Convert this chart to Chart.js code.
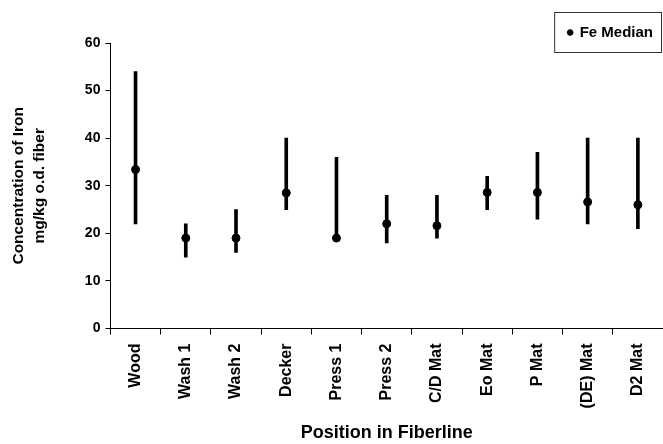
<!DOCTYPE html>
<html>
<head>
<meta charset="utf-8">
<script src="https://cdn.jsdelivr.net/npm/chart.js@4/dist/chart.umd.min.js"></script>
<style>
  html, body { margin: 0; padding: 0; background: #fff; overflow: hidden; }
  #wrap { width: 663px; height: 444px; }
  canvas { display: block; }
</style>
</head>
<body>
<div id="wrap"><canvas id="FeChart"></canvas></div>
<script>
// positions along the fiberline
var positions = ['Wood', 'Wash 1', 'Wash 2', 'Decker', 'Press 1', 'Press 2', 'C/D Mat', 'Eo Mat', 'P Mat', '(DE) Mat', 'D2 Mat'];
// median, low and high iron concentration (mg/kg o.d. fiber)
var feMedian = [33.4, 19, 19, 28.5, 19, 22, 21.6, 28.6, 28.6, 26.6, 26];
var feLow    = [22, 15, 16, 25, 19, 18, 19, 25, 23, 22, 21];
var feHigh   = [54, 22, 25, 40, 36, 28, 28, 32, 37, 40, 40];
var yTicks = [0, 10, 20, 30, 40, 50, 60];

var ranges = [];
for (var i = 0; i < positions.length; i++) {
  ranges.push([feLow[i], feHigh[i]]);
}

var font = 'Liberation Sans, Arial, sans-serif';

// draws the frame round the legend like the original
var legendBox = {
  id: 'legendBox',
  afterDraw: function(chart) {
    var lg = chart.legend;
    if (!lg || !lg.legendHitBoxes.length) return;
    var hb = lg.legendHitBoxes[0];
    var ctx = chart.ctx;
    ctx.save();
    ctx.strokeStyle = '#333';
    ctx.lineWidth = 1;
    ctx.strokeRect(hb.left - 13.5, Math.round(hb.top + hb.height / 2) - 20.5, hb.width + 22, 40);
    ctx.restore();
  }
};

var ctx = document.getElementById('FeChart').getContext('2d');
var feChart = new Chart(ctx, {
  type: 'bar',
  data: {
    labels: positions,
    datasets: [
      {
        type: 'line',
        label: 'Fe Median',
        data: feMedian,
        showLine: false,
        pointStyle: 'circle',
        pointRadius: 4,
        pointBackgroundColor: '#000',
        pointBorderColor: '#000',
        order: 0
      },
      {
        label: 'range',
        data: ranges,
        backgroundColor: '#000',
        borderWidth: 0,
        barThickness: 3,
        order: 1
      }
    ]
  },
  options: {
    responsive: true,
    maintainAspectRatio: false,
    animation: false,
    layout: { autoPadding: false, padding: { top: 15, right: 0, left: 8, bottom: 0 } },
    plugins: {
      tooltip: { enabled: false },
      legend: {
        position: 'top',
        align: 'end',
        maxHeight: 28,
        labels: {
          filter: function(item) { return item.text === 'Fe Median'; },
          usePointStyle: true,
          boxWidth: 4,
          boxHeight: 4,
          padding: 10,
          color: '#000',
          font: { family: font, size: 15, weight: 'bold' }
        }
      }
    },
    scales: {
      x: {
        offset: true,
        afterFit: function(s) { s.paddingRight = 0; },
        border: { display: true, color: '#000', width: 1 },
        grid: { display: true, drawOnChartArea: false, offset: true, color: '#000', tickLength: 6 },
        ticks: {
          color: '#000',
          minRotation: 90,
          maxRotation: 90,
          padding: 9,
          font: { family: font, size: 16, weight: 'bold' }
        },
        title: {
          display: true,
          text: 'Position in Fiberline',
          color: '#000',
          padding: { top: 5, bottom: 0 },
          font: { family: font, size: 18, weight: 'bold' }
        }
      },
      y: {
        min: 0,
        max: 60,
        afterBuildTicks: function(axis) {
          axis.ticks = yTicks.map(function(v) { return { value: v }; });
        },
        border: { display: true, color: '#000', width: 1 },
        grid: { display: true, drawOnChartArea: false, color: '#000', tickLength: 5 },
        ticks: {
          color: '#000',
          padding: 5,
          font: { family: font, size: 14, weight: 'bold' }
        },
        title: {
          display: true,
          text: ['Concentration of Iron', 'mg/kg o.d. fiber'],
          color: '#000',
          padding: { top: 0, bottom: 30 },
          font: { family: font, size: 15.5, weight: 'bold', lineHeight: 1.35 }
        }
      }
    }
  },
  plugins: [legendBox]
});
</script>
</body>
</html>
